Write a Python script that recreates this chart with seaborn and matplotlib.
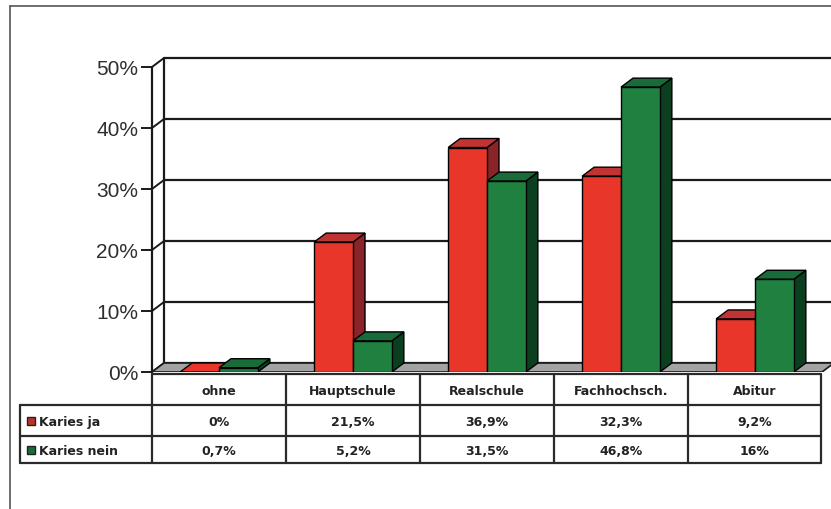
import matplotlib
matplotlib.use("Agg")
import matplotlib.pyplot as plt
import seaborn as sns
import pandas as pd
from matplotlib.patches import Polygon, Rectangle

# ---- data ----
categories = ["ohne", "Hauptschule", "Realschule", "Fachhochsch.", "Abitur"]
series = ["Karies ja", "Karies nein"]
karies_ja = [0.0, 21.3, 36.8, 32.1, 8.7]
karies_nein = [0.7, 5.1, 31.3, 46.7, 15.2]
table_ja = ["0%", "21,5%", "36,9%", "32,3%", "9,2%"]
table_nein = ["0,7%", "5,2%", "31,5%", "46,8%", "16%"]
y_ticks = [0, 10, 20, 30, 40, 50]
y_tick_labels = ["0%", "10%", "20%", "30%", "40%", "50%"]

# ---- style ----
front_colors = ["#e8372a", "#1f8040"]
side_colors = ["#8a2428", "#0c3f20"]
top_colors = ["#c23434", "#1a6b3a"]
legend_colors = ["#c0302a", "#1a6a3a"]

sns.set_style("white")
plt.rcParams["font.family"] = ["Liberation Sans", "DejaVu Sans"]

W, H = 831, 510
fig = plt.figure(figsize=(W / 100, H / 100), dpi=100)

ax_left, ax_right, ax_top, ax_bottom = 152, 831, 59, 373
cat_px = 134.0
pct_px = 6.1
dx_px, dy_px = 12.0, 9.0
ax = fig.add_axes([ax_left / W, 1 - ax_bottom / H, (ax_right - ax_left) / W, (ax_bottom - ax_top) / H])

df = pd.DataFrame({
    "Kategorie": categories * 2,
    "Wert": karies_ja + karies_nein,
    "Serie": [series[0]] * len(categories) + [series[1]] * len(categories),
})

sns.barplot(data=df, x="Kategorie", y="Wert", hue="Serie", order=categories,
            hue_order=series, palette=front_colors, saturation=1, width=0.58,
            edgecolor="black", linewidth=1.0, ax=ax, legend=False)

xmin = -0.5
xmax = xmin + (ax_right - ax_left) / cat_px
ymax = (ax_bottom - ax_top) / pct_px
ax.set_xlim(xmin, xmax)
ax.set_ylim(0, ymax)
dx = dx_px / cat_px
dy = dy_px / pct_px

bars = list(ax.patches)
n = len(categories)
for k, p in enumerate(bars):
    s = 0 if k < n else 1
    x0, w, h = p.get_x(), p.get_width(), p.get_height()
    base_z = 3 if s == 0 else 5
    p.set_zorder(base_z)
    side = Polygon([(x0 + w, 0), (x0 + w + dx, dy), (x0 + w + dx, h + dy), (x0 + w, h)],
                   closed=True, facecolor=side_colors[s], edgecolor="black", lw=1.0,
                   zorder=base_z - 0.5)
    tc = top_colors[s] if h > 0.05 else front_colors[s]
    top = Polygon([(x0, h), (x0 + w, h), (x0 + w + dx, h + dy), (x0 + dx, h + dy)],
                  closed=True, facecolor=tc, edgecolor="black", lw=1.0,
                  zorder=base_z - 0.4)
    ax.add_patch(side)
    ax.add_patch(top)

# floor
floor = Polygon([(xmin, 0), (4.5, 0), (4.5 + dx, dy), (xmin + dx, dy)], closed=True,
                facecolor="#a3a3a3", edgecolor="#1a1a1a", lw=1.2, zorder=1)
ax.add_patch(floor)

# back wall gridlines, side wall lines
for v in y_ticks:
    ax.plot([xmin + dx, xmax], [v + dy, v + dy], color="#1a1a1a", lw=1.6, zorder=0.5,
            clip_on=False, solid_capstyle="butt")
    ax.plot([xmin, xmin + dx], [v, v + dy], color="#1a1a1a", lw=1.4, zorder=0.6, clip_on=False)
ax.plot([xmin + dx, xmin + dx], [dy, 50 + dy], color="#1a1a1a", lw=1.6, zorder=0.6, clip_on=False)
ax.plot([xmin, xmin], [0, 50], color="#1a1a1a", lw=1.6, zorder=2, clip_on=False)

for sp in ax.spines.values():
    sp.set_visible(False)
ax.set_xticks([])
ax.set_yticks(y_ticks)
ax.set_yticklabels(y_tick_labels, fontsize=15, color="#2e2e2e")
ax.tick_params(axis="y", direction="out", length=8, width=1.4, color="#1a1a1a", pad=2, left=True)
ax.set_xlabel("")
ax.set_ylabel("")
ax.patch.set_alpha(0)

# ---- data table ----
fig.canvas.draw()
tax = fig.add_axes([0, 0, 1, 1])
tax.set_xlim(0, W)
tax.set_ylim(H, 0)
tax.axis("off")
tax.patch.set_alpha(0)

def to_px(xd):
    disp = ax.transData.transform((xd, 0))
    return disp[0]

col_edges = [to_px(i - 0.5) for i in range(n + 1)]
col_edges[-1] -= 1
leg_left = 20
rows_y = [375, 406, 437, 464]
lc = "#2a2a2a"
lw = 1.6
tax.plot([col_edges[0], col_edges[-1]], [rows_y[0], rows_y[0]], color=lc, lw=lw)
for yy in rows_y[1:]:
    tax.plot([leg_left, col_edges[-1]], [yy, yy], color=lc, lw=lw)
tax.plot([leg_left, leg_left], [rows_y[1], rows_y[3]], color=lc, lw=lw)
for xe in col_edges:
    tax.plot([xe, xe], [rows_y[0], rows_y[3]], color=lc, lw=lw)

tfont = dict(family=["DejaVu Sans"], fontsize=9, fontweight="bold", color="#222222")
row_c = [(rows_y[i] + rows_y[i + 1]) / 2 + 1 for i in range(3)]
for i, cat in enumerate(categories):
    cx = (col_edges[i] + col_edges[i + 1]) / 2
    tax.text(cx, row_c[0], cat, ha="center", va="center", **tfont)
    tax.text(cx, row_c[1], table_ja[i], ha="center", va="center", **tfont)
    tax.text(cx, row_c[2], table_nein[i], ha="center", va="center", **tfont)

for r, (lab, col) in enumerate(zip(series, legend_colors)):
    yc = row_c[r + 1]
    tax.add_patch(Rectangle((27, yc - 4.5), 8, 8, facecolor=col, edgecolor="#222222", lw=1.0))
    tax.text(39, yc, lab, ha="left", va="center", **tfont)

# outer frame
tax.plot([10, 10], [7, H], color="#555555", lw=1.2)
tax.plot([10, W], [7, 7], color="#555555", lw=1.2)

fig.savefig("out.png", dpi=100)
